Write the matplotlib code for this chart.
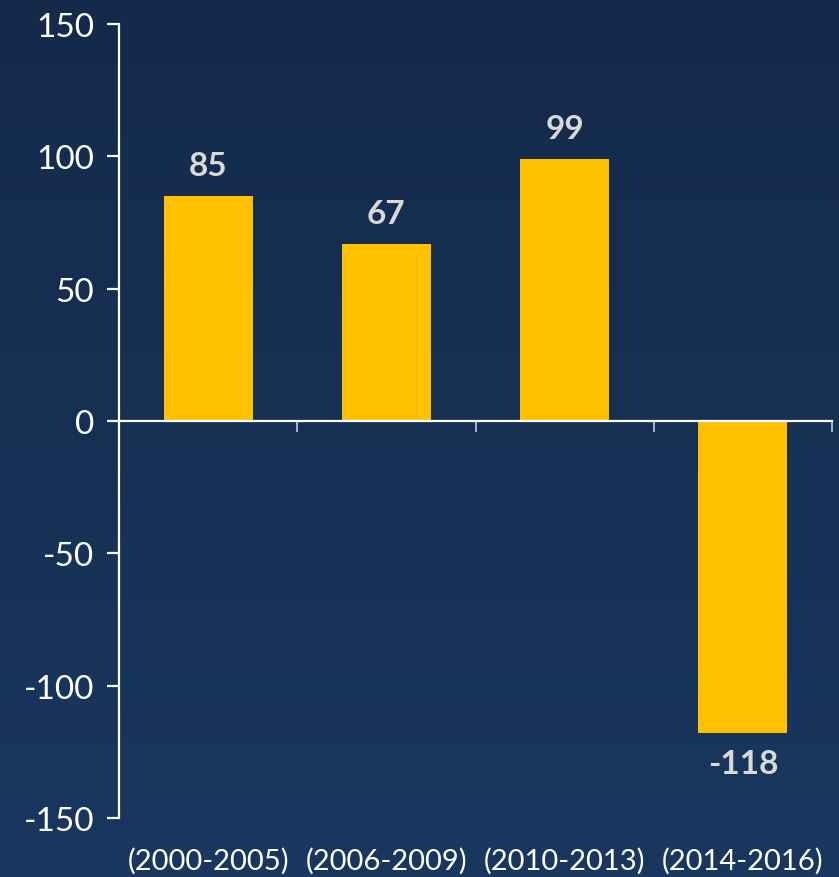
import matplotlib
matplotlib.use("Agg")
import matplotlib.pyplot as plt
import numpy as np
from matplotlib.colors import LinearSegmentedColormap

categories = ["(2000-2005)", "(2006-2009)", "(2010-2013)", "(2014-2016)"]
values = [85, 67, 99, -118]
yticks = [-150, -100, -50, 0, 50, 100, 150]

plt.rcParams['font.family'] = ['Lato', 'DejaVu Sans']

W, H = 839, 878
fig = plt.figure(figsize=(W/100, H/100), dpi=100)

# background gradient
bg = fig.add_axes([0, 0, 1, 1], zorder=-10)
cmap = LinearSegmentedColormap.from_list("bg", ["#142a4a", "#19375f"])
grad = np.linspace(0, 1, 256).reshape(-1, 1)
bg.imshow(grad, aspect='auto', cmap=cmap, extent=[0, 1, 0, 1], origin='upper')
bg.axis('off')

ax = fig.add_axes([119/W, 59/H, (832-119)/W, (819-25)/H])
ax.patch.set_alpha(0)

x = np.arange(len(categories))
ax.bar(x, values, width=0.5, color="#ffc000", zorder=2)
ax.set_xlim(-0.5, len(categories) - 0.5)
ax.set_ylim(-150, 150)
ax.set_yticks(yticks)
ax.set_yticklabels([str(v) for v in yticks])

for s in ['top', 'right']:
    ax.spines[s].set_visible(False)
ax.spines['left'].set_color('white')
ax.spines['left'].set_linewidth(1.6)
ax.spines['bottom'].set_position(('data', 0))
ax.spines['bottom'].set_color('white')
ax.spines['bottom'].set_linewidth(1.6)

ax.set_xticks(np.arange(len(categories) + 1) - 0.5, minor=True)
ax.set_xticks(x)
ax.set_xticklabels([])
ax.tick_params(axis='x', which='major', length=0)
ax.tick_params(axis='x', which='minor', length=8, width=1.2, color='#c8ccd4', direction='out')
ax.tick_params(axis='y', length=9, width=1.6, color='white', labelcolor='white',
               labelsize=24, pad=9)

for xi, lab in zip(x, categories):
    ax.text(xi, -161, lab, ha='center', va='top',
            color='white', fontsize=21)

for xi, v in zip(x, values):
    if v >= 0:
        ax.text(xi, v + 6, str(v), ha='center', va='bottom', color='#d9d9d9',
                fontsize=24, fontweight='bold')
    else:
        ax.text(xi, v - 6, str(v), ha='center', va='top', color='#d9d9d9',
                fontsize=24, fontweight='bold')

fig.savefig("out.png", dpi=100)
